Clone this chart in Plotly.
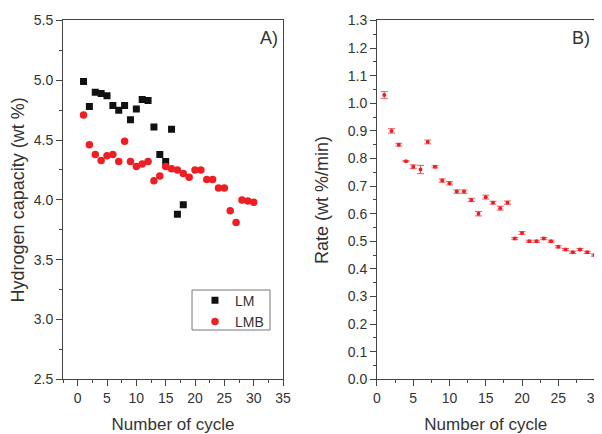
import plotly.graph_objects as go

# Panel A data
lm_cycle = list(range(1, 19))
lm_cap = [4.99, 4.78, 4.90, 4.89, 4.87, 4.79, 4.75, 4.79, 4.67, 4.76,
          4.84, 4.83, 4.61, 4.38, 4.32, 4.59, 3.88, 3.96]
lmb_cycle = list(range(1, 31))
lmb_cap = [4.71, 4.46, 4.38, 4.33, 4.37, 4.38, 4.32, 4.49, 4.32, 4.28,
           4.30, 4.32, 4.16, 4.20, 4.28, 4.26, 4.25, 4.22, 4.19, 4.25,
           4.25, 4.17, 4.17, 4.10, 4.10, 3.91, 3.81, 4.00, 3.99, 3.98]

# Panel B data
rate_cycle = list(range(1, 31))
rate = [1.03, 0.90, 0.85, 0.79, 0.77, 0.76, 0.86, 0.77, 0.72, 0.71,
        0.68, 0.68, 0.65, 0.60, 0.66, 0.64, 0.62, 0.64, 0.51, 0.53,
        0.50, 0.50, 0.51, 0.50, 0.48, 0.47, 0.46, 0.47, 0.46, 0.45]
rate_err = [0.012, 0.008, 0.005, 0.002, 0.007, 0.015, 0.007, 0.004, 0.006, 0.006,
            0.006, 0.006, 0.006, 0.008, 0.007, 0.005, 0.007, 0.006, 0.004, 0.005,
            0.004, 0.004, 0.004, 0.004, 0.004, 0.004, 0.004, 0.004, 0.004, 0.004]

RED = "#ec2024"
TXT = "#333333"
AX = "#444444"
FONT = "Liberation Sans, Arial, sans-serif"

fig = go.Figure()
fig.add_trace(go.Scatter(x=lm_cycle, y=lm_cap, mode="markers", name="LM",
                         marker=dict(symbol="square", size=7, color="#111111"),
                         xaxis="x", yaxis="y"))
fig.add_trace(go.Scatter(x=lmb_cycle, y=lmb_cap, mode="markers", name="LMB",
                         marker=dict(symbol="circle", size=7.5, color=RED),
                         xaxis="x", yaxis="y"))
fig.add_trace(go.Scatter(x=rate_cycle, y=rate, mode="markers", showlegend=False,
                         marker=dict(symbol="circle", size=4, color=RED),
                         error_y=dict(type="data", array=rate_err, visible=True,
                                      color="rgba(236,32,36,0.75)", thickness=1, width=3.5),
                         xaxis="x2", yaxis="y2"))

tick_common = dict(ticks="outside", ticklen=6, tickwidth=1, tickcolor=AX,
                   showline=True, linecolor=AX, linewidth=1, mirror=True,
                   showgrid=False, zeroline=False, automargin=False,
                   ticklabeloverflow="allow",
                   tickfont=dict(family=FONT, size=14, color=TXT))

fig.update_layout(
    width=594, height=426,
    margin=dict(l=0, r=0, t=0, b=0),
    paper_bgcolor="white", plot_bgcolor="white",
    font=dict(family=FONT, color=TXT),
    xaxis=dict(domain=[0.0926, 0.463], range=[-2.5, 35], dtick=5, tick0=0,
               minor=dict(ticks="outside", ticklen=3, dtick=2.5, tick0=0, tickcolor=AX),
               title=dict(text="Number of cycle", font=dict(size=17, color=TXT, family=FONT), standoff=12),
               anchor="y", **tick_common),
    yaxis=dict(domain=[0.1284, 0.9707], range=[2.5, 5.5], dtick=0.5, tickformat=".1f",
               minor=dict(ticks="outside", ticklen=3, dtick=0.25, tick0=0, tickcolor=AX),
               title=dict(text="Hydrogen capacity (wt %)", font=dict(size=18, color=TXT, family=FONT), standoff=4),
               anchor="x", **tick_common),
    xaxis2=dict(domain=[0.6212, 0.9874], range=[0, 30], dtick=5, tick0=0,
                minor=dict(ticks="outside", ticklen=3, dtick=2.5, tick0=0, tickcolor=AX),
                title=dict(text="Number of cycle", font=dict(size=17, color=TXT, family=FONT), standoff=12),
                anchor="y2", **tick_common),
    yaxis2=dict(domain=[0.1284, 0.9707], range=[0, 1.3], dtick=0.1, tickformat=".1f",
                minor=dict(ticks="outside", ticklen=3, dtick=0.05, tick0=0, tickcolor=AX),
                title=dict(text="Rate (wt %/min)", font=dict(size=18, color=TXT, family=FONT), standoff=14),
                anchor="x2", **tick_common),
    legend=dict(x=0.3148, y=0.3505, xanchor="left", yanchor="top",
                borderwidth=0, bgcolor="rgba(0,0,0,0)",
                font=dict(family=FONT, size=14, color=TXT), itemwidth=30,
                tracegroupgap=0),
    shapes=[
        dict(type="rect", xref="paper", yref="paper",
             x0=0.3098, x1=0.4411, y0=0.2441, y1=0.338,
             line=dict(color="#777777", width=1), fillcolor="white", layer="above"),
    ],
    annotations=[
        dict(text="A)", x=0.985, y=0.985, xref="x domain", yref="y domain",
             xanchor="right", yanchor="top", showarrow=False,
             font=dict(family=FONT, size=18, color=TXT)),
        dict(text="B)", x=0.99, y=0.985, xref="x2 domain", yref="y2 domain",
             xanchor="right", yanchor="top", showarrow=False,
             font=dict(family=FONT, size=18, color=TXT)),
    ],
)

fig.write_html("out.html")
